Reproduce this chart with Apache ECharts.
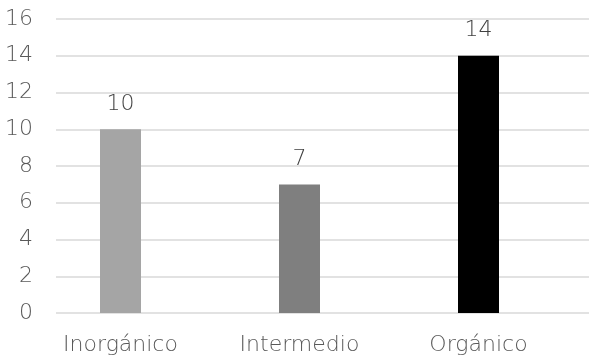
<!DOCTYPE html>
<html><head><meta charset="utf-8">
<script src="https://cdn.jsdelivr.net/npm/echarts@6/dist/echarts.min.js"></script>
<style>html,body{margin:0;padding:0;background:#fff}#c{width:589px;height:360px}</style>
</head><body><div id="c"></div>
<script>
const categories = ['Inorgánico', 'Intermedio', 'Orgánico'];
const values = [10, 7, 14];
const barColors = ['#A5A5A5', '#7F7F7F', '#000000'];
const yTicks = [0, 2, 4, 6, 8, 10, 12, 14, 16];

const font = 'DejaVu Sans';
const chart = echarts.init(document.getElementById('c'), null, {renderer: 'canvas'});
chart.setOption({
  animation: false,
  backgroundColor: '#fff',
  grid: [
    {left: 56, right: 0, top: 19, bottom: 47},
    {left: 31, right: 21, top: 19, bottom: 47}
  ],
  xAxis: [
    {gridIndex: 0, type: 'category', data: categories, show: false},
    {gridIndex: 1, type: 'category', data: categories,
     axisLine: {show: false}, axisTick: {show: false},
     axisLabel: {color: '#595959', fontFamily: font, fontWeight: 200, fontSize: 22, margin: 21}}
  ],
  yAxis: [
    {gridIndex: 0, type: 'value', min: yTicks[0], max: yTicks[yTicks.length-1], interval: 2,
     axisLine: {show: false}, axisTick: {show: false},
     splitLine: {lineStyle: {color: '#D9D9D9', width: 1.5}},
     axisLabel: {color: '#595959', fontFamily: font, fontWeight: 200, fontSize: 22, margin: 23}},
    {gridIndex: 1, type: 'value', min: yTicks[0], max: yTicks[yTicks.length-1], interval: 2, show: false}
  ],
  series: [{
    type: 'bar', xAxisIndex: 1, yAxisIndex: 1,
    barWidth: 41,
    data: values.map((v, i) => ({value: v, itemStyle: {color: barColors[i]}})),
    label: {show: true, position: 'top', distance: 14, color: '#404040', fontFamily: font, fontWeight: 200, fontSize: 22}
  }]
});
</script></body></html>
